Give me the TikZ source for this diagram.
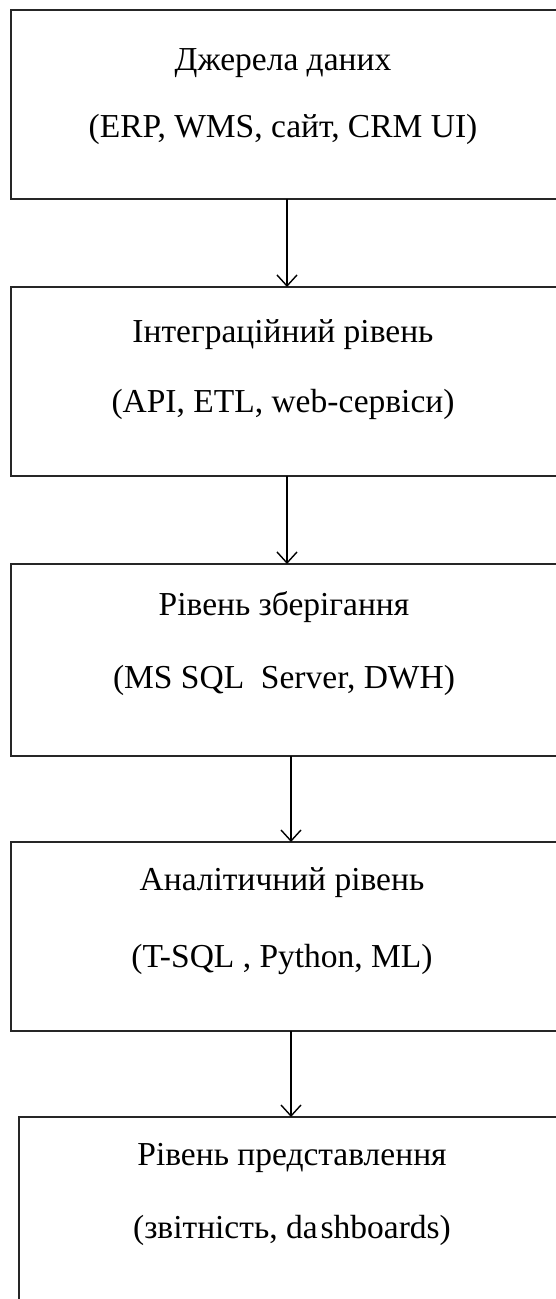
\documentclass[tikz,border=0pt]{standalone}
\usepackage{fontspec}
\setmainfont{Liberation Serif}[Ligatures=TeX]
\newfontfamily\layerfont{Liberation Serif}
\usetikzlibrary{arrows.meta}
\begin{document}
\begin{tikzpicture}[x=1pt,y=-1pt,
  layerbox/.style={draw=black!85,line width=1.7pt,fill=none},
  layertext/.style={anchor=base,inner sep=0pt,font=\layerfont\fontsize{33.5}{38}\selectfont},
  flow/.style={draw=black,line width=1.4pt,-{Straight Barb[length=11pt,width=20pt,line width=1.4pt]}}]
  \useasboundingbox (0,0) rectangle (555,1299);
  \fill[white] (0,0) rectangle (555,1299);

  % layer frames
  \draw[layerbox] (11,10) rectangle (563,199);
  \draw[layerbox] (11,287) rectangle (563,476);
  \draw[layerbox] (11,564) rectangle (563,756);
  \draw[layerbox] (11,842) rectangle (563,1031);
  \draw[layerbox] (19,1117) rectangle (571,1320);

  % anchors on the frame edges for the connectors
  \coordinate (s1) at (287,199);  \coordinate (t2) at (287,287);
  \coordinate (s2) at (287,476);  \coordinate (t3) at (287,564);
  \coordinate (s3) at (291,756);  \coordinate (t4) at (291,842);
  \coordinate (s4) at (291,1031); \coordinate (t5) at (291,1117);

  % labels
  \node[layertext] (l1a) at (283,70)   {Джерела даних};
  \node[layertext] (l1b) at (283,137)  {(ERP, WMS, сайт, CRM UI)};
  \node[layertext] (l2a) at (283,342)  {Інтеграційний рівень};
  \node[layertext] (l2b) at (283,412)  {(API, ETL, web-сервіси)};
  \node[layertext] (l3a) at (284,615)  {Рівень зберігання};
  \node[layertext] (l3b) at (284,688)  {(MS SQL\ \ Server, DWH)};
  \node[layertext] (l4a) at (282,890)  {Аналітичний рівень};
  \node[layertext] (l4b) at (282,967)  {(T-SQL , Python, ML)};
  \node[layertext] (l5a) at (292,1165) {Рівень представлення};
  \node[layertext] (l5b) at (292,1238) {(звітність, da\hspace{3pt}shboards)};

  % connectors between layers
  \draw[flow] (s1) -- (t2);
  \draw[flow] (s2) -- (t3);
  \draw[flow] (s3) -- (t4);
  \draw[flow] (s4) -- (t5);
\end{tikzpicture}
\end{document}
